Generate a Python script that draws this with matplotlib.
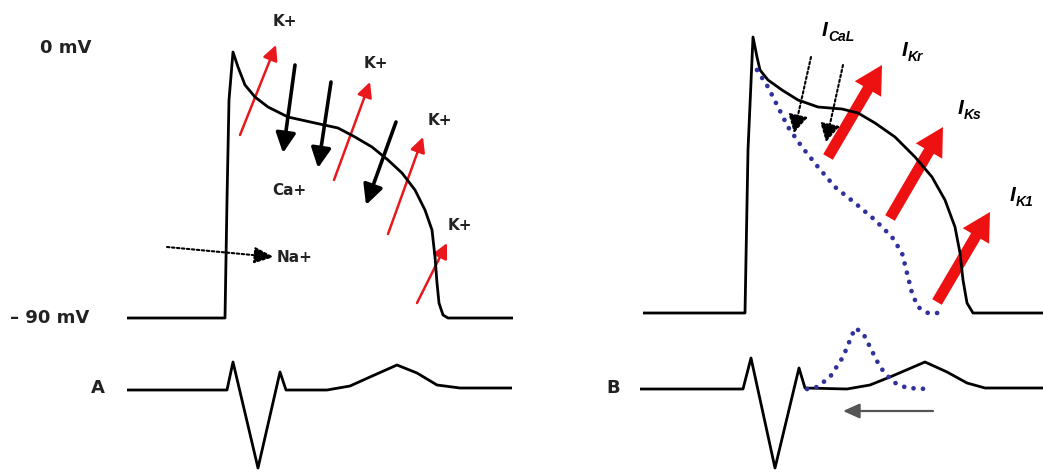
import matplotlib.pyplot as plt
from matplotlib.patches import FancyArrowPatch

# Action potential A (time, level) in picture units
ap_a_t = [127, 225, 227, 229, 233, 238, 245, 255, 268, 288, 315, 338, 355, 372, 388,
          402, 415, 425, 432, 435, 437, 439, 443, 448, 513]
ap_a_v = [318, 318, 200, 100, 52, 67, 85, 97, 107, 117, 123, 128, 137, 147, 160,
          173, 190, 210, 230, 257, 283, 303, 315, 318, 318]

# ECG A
ecg_a_t = [127, 227, 233, 258, 280, 286, 327, 350, 370, 397, 417, 437, 460, 512]
ecg_a_v = [390, 390, 362, 468, 372, 390, 390, 386, 377, 365, 373, 385, 388, 388]

# Action potential B
ap_b_t = [643, 745, 748, 753, 757, 760, 768, 782, 798, 818, 842, 858, 875, 895, 915,
          932, 945, 955, 960, 963, 967, 973, 1043]
ap_b_v = [313, 313, 150, 37, 57, 70, 80, 90, 100, 107, 109, 113, 123, 137, 157,
          177, 200, 227, 253, 280, 303, 313, 313]

# Shortened action potential (dotted blue)
ap_short_t = [757, 768, 778, 788, 802, 818, 835, 855, 875, 892, 902, 907, 912, 918, 928, 943]
ap_short_v = [70, 87, 107, 127, 147, 167, 187, 203, 220, 237, 253, 273, 293, 307, 313, 313]

# ECG B
ecg_b_t = [640, 743, 751, 775, 799, 805, 847, 870, 890, 925, 947, 967, 985, 1043]
ecg_b_v = [389, 389, 358, 468, 368, 388, 389, 385, 377, 362, 372, 383, 388, 388]

# Peaked T wave (dotted blue)
ecg_short_t = [807, 817, 830, 843, 855, 863, 870, 880, 893, 907, 928]
ecg_short_v = [389, 387, 377, 357, 328, 333, 347, 367, 382, 388, 389]

# Currents, panel A: (x0, y0, x1, y1)
k_arrows = [(240, 135, 276, 45), (334, 180, 370, 82), (388, 234, 423, 137), (417, 303, 447, 243)]
k_labels = [(285, 22), (376, 63), (440, 120), (460, 225)]
ca_arrows = [(295, 65, 283, 153), (331, 82, 318, 168), (396, 122, 366, 205)]
na_arrow = (167, 247, 274, 257)

# Currents, panel B
ik_arrows = [(828, 157, 882, 65), (890, 218, 943, 127), (937, 302, 990, 212)]
ical_arrows = [(811, 57, 794, 133), (843, 65, 826, 142)]
i_labels = [('CaL', 822, 30), ('Kr', 902, 50), ('Ks', 958, 108), ('K1', 1010, 195)]

fig = plt.figure(figsize=(10.43, 4.73), dpi=100)
ax = fig.add_axes([0, 0, 1, 1])
ax.set_xlim(0, 1043)
ax.set_ylim(473, 0)
ax.axis('off')

lw = 2.0
for t, v in [(ap_a_t, ap_a_v), (ecg_a_t, ecg_a_v), (ap_b_t, ap_b_v), (ecg_b_t, ecg_b_v)]:
    ax.plot(t, v, color='black', lw=lw, solid_joinstyle='round', solid_capstyle='butt')
for t, v in [(ap_short_t, ap_short_v), (ecg_short_t, ecg_short_v)]:
    ax.plot(t, v, color='#30309e', lw=3.4, ls=(0, (0.01, 2.0)), dash_capstyle='round')


def arrow(x0, y0, x1, y1, **kw):
    ax.add_patch(FancyArrowPatch((x0, y0), (x1, y1), shrinkA=0, shrinkB=0,
                                 mutation_scale=1, **kw))


for x0, y0, x1, y1 in k_arrows:
    arrow(x0, y0, x1, y1, arrowstyle='-|>,head_length=9,head_width=4.5',
          color='#e8181c', lw=1.8)
for x0, y0, x1, y1 in ca_arrows:
    arrow(x0, y0, x1, y1, arrowstyle='-|>,head_length=12,head_width=6',
          color='black', lw=2.6)
arrow(*na_arrow, arrowstyle='-|>,head_length=12,head_width=5', color='black',
      lw=1.5, ls=(0, (1.2, 1.2)))

for x0, y0, x1, y1 in ik_arrows:
    arrow(x0, y0, x1, y1, arrowstyle='simple,head_length=20,head_width=22,tail_width=8',
          color='#ee1111', lw=0)
for x0, y0, x1, y1 in ical_arrows:
    arrow(x0, y0, x1, y1, arrowstyle='-|>,head_length=11,head_width=6', color='black',
          lw=1.5, ls=(0, (1.2, 1.2)))
arrow(933, 411, 843, 411, arrowstyle='-|>,head_length=10,head_width=4.5',
      color='#555555', lw=1.6)

lab = dict(fontsize=13, fontweight='bold', color='#222222', family='DejaVu Sans',
           va='center')
ax.text(40, 48, '0 mV', ha='left', **lab)
ax.text(10, 318, '\u2013 90 mV', ha='left', **lab)
ax.text(98, 388, 'A', ha='center', **lab)
ax.text(613, 388, 'B', ha='center', **lab)

ion = dict(fontsize=11, fontweight='bold', color='#222222', family='DejaVu Sans',
           va='center', ha='left')
for x, y in k_labels:
    ax.text(x - 12, y, 'K+', **ion)
ax.text(272, 190, 'Ca+', **ion)
ax.text(277, 257, 'Na+', **ion)

for sub, x, y in i_labels:
    ax.text(x, y, 'I', fontsize=15, fontweight='bold', style='italic',
            family='Liberation Sans', va='center', ha='left')
    ax.text(x + 6, y + 7, sub, fontsize=10, fontweight='bold', style='italic',
            family='Liberation Sans', va='center', ha='left')

fig.savefig('out.png', dpi=100)
